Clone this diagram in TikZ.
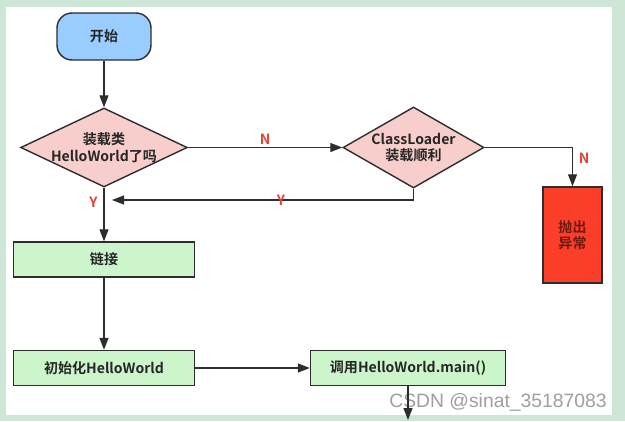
\documentclass[tikz,border=0pt]{standalone}
\usepackage{fontspec}
\setmainfont{Noto Sans CJK SC}[BoldFont={Noto Sans CJK SC Bold}]
\newfontfamily\markfont{Liberation Sans}
\usetikzlibrary{shapes.geometric,arrows.meta}
\definecolor{startblue}{RGB}{153,204,255}
\definecolor{askpink}{RGB}{248,206,204}
\definecolor{stepgreen}{RGB}{204,245,204}
\definecolor{errred}{RGB}{250,62,42}
\definecolor{errtext}{RGB}{110,25,15}
\definecolor{labelred}{RGB}{232,64,46}
\definecolor{linegray}{RGB}{45,45,45}
\definecolor{framegreen}{RGB}{206,230,214}

\begin{document}
\begin{tikzpicture}[x=0.03cm, y=-0.03cm,
		font=\fontsize{12}{14}\selectfont\bfseries, text=black!85,
		start_style/.style={rectangle,rounded corners=0.45cm,draw=linegray,line width=1.2pt,fill=startblue,minimum width=2.82cm,minimum height=1.41cm},
		ask_style/.style={diamond,draw=linegray,line width=1.2pt,fill=askpink,align=center,inner sep=-2pt},
		box_style/.style={rectangle,draw=linegray,line width=1.2pt,fill=stepgreen,minimum height=1.05cm},
		err_style/.style={rectangle,draw=linegray,line width=1.2pt,fill=errred,text=errtext,align=center,minimum width=1.77cm,minimum height=2.88cm},
		label_style/.style={text=labelred,inner sep=2pt},
		edge_style/.style={draw=linegray,line width=1pt,-{Triangle[length=3.6mm,width=2.7mm]}}]
		
		\fill[framegreen] (0,0) rectangle (625,421);
		\fill[white] (6,7) rectangle (612,415);
		\useasboundingbox (0,0) rectangle (625,421);
		
		\node[start_style] (start) at (104,36.5) {开始};
		\node[ask_style,aspect=2.1,minimum width=5cm,minimum height=2.37cm] (d1) at (104,147.5) {装载类\\HelloWorld了吗};
		\node[ask_style,aspect=1.75,minimum width=4.23cm,minimum height=2.43cm] (d2) at (413.5,147.5) {ClassLoader\\装载顺利};
		\node[err_style] (err) at (572.5,235) {抛出\\异常};
		\node[box_style,minimum width=5.43cm] (link) at (104,259.5) {链接};
		\node[box_style,minimum width=5.43cm] (init) at (104,368) {初始化HelloWorld};
		\node[box_style,minimum width=5.85cm] (call) at (408,368) {调用HelloWorld.main()};
		\coordinate (yend) at (112,200);
		\coordinate (callout) at (408,420);
		\node[font=\markfont\fontsize{16.5}{18}\selectfont, text=gray!75] (mark) at (498,402) {CSDN @sinat\_35187083};
		
		\draw[edge_style] (start) -- (d1);
		\draw[edge_style] (d1) -- node[label_style,above]{N} (d2);
		\draw[edge_style] (d2) -| node[label_style,pos=0.64,right=3pt]{N} (err);
		\draw[edge_style] (d2) |- node[label_style,pos=0.72]{Y} (yend);
		\draw[edge_style] (d1) -- node[label_style,pos=0.27,left=3pt]{Y} (link);
		\draw[edge_style] (link) -- (init);
		\draw[edge_style] (init) -- (call);
		\draw[edge_style] (call) -- (callout);
		
\end{tikzpicture}
\end{document}
